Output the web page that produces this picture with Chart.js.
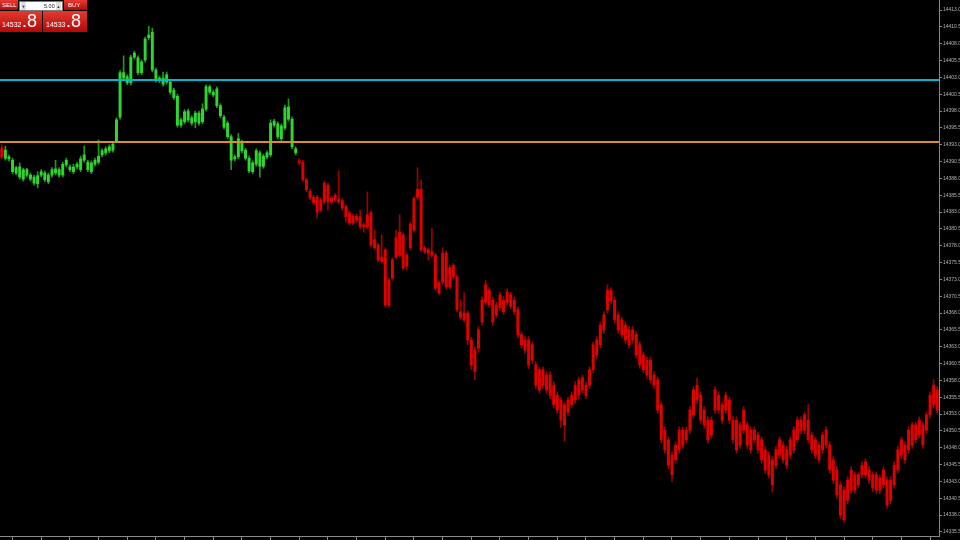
<!DOCTYPE html>
<html>
<head>
<meta charset="utf-8">
<script src="https://cdn.jsdelivr.net/npm/chart.js@4.4.1/dist/chart.umd.min.js"></script>
<style>
  html, body { margin: 0; padding: 0; background: #000; overflow: hidden; }
  #wrap { position: relative; width: 960px; height: 540px; }
  canvas { display: block; }
  .panel { position: absolute; font-family: "Liberation Sans", Arial, sans-serif; color: #fff; }
  .btn { position: absolute; background: linear-gradient(#e8392f, #b50a0a); font-size: 6px; line-height: 10px; box-sizing: border-box; }
  .field { position: absolute; background: #fff; color: #222; font-size: 5.5px; line-height: 9px; box-sizing: border-box; border: 1px solid #777; }
  .big { position: absolute; background: linear-gradient(#e23a30, #b40808); box-sizing: border-box; }
  .big .small { position: absolute; font-size: 7px; bottom: 4px; }
  .big .large { position: absolute; font-size: 18px; line-height: 18px; top: 1px; }
</style>
</head>
<body>
<div id="wrap">
  <canvas id="c" width="960" height="540"></canvas>
  <div class="panel" style="left:0;top:0;width:88px;height:33px;">
    <div class="btn" style="left:0;top:0;width:18px;height:10px;padding-left:2px;">SELL</div>
    <div class="field" style="left:19px;top:1px;width:44px;height:10px;">
      <span style="position:absolute;left:1px;top:0;width:5px;height:8px;background:#ddd;color:#333;font-size:4px;text-align:center;">&#9660;</span>
      <span style="position:absolute;left:24px;top:0;">5.00</span>
      <span style="position:absolute;left:36px;top:0;width:5px;height:8px;background:#ddd;color:#333;font-size:4px;text-align:center;">&#9650;</span>
    </div>
    <div class="btn" style="left:64px;top:0;width:23px;height:10px;padding-left:4px;">BUY</div>
    <div class="big" style="left:0;top:11px;width:42px;height:21px;">
      <span class="small" style="left:2px;">14532</span>
      <span class="large" style="left:22px;">.8</span>
    </div>
    <div class="big" style="left:43px;top:11px;width:44px;height:21px;">
      <span class="small" style="left:3px;">14533</span>
      <span class="large" style="left:23px;">.8</span>
    </div>
  </div>
</div>
<script>
// ---- data (M1 candles) ----
const open = [
14392.5,14391.0,14390.9,14389.0,14388.8,14388.2,14387.9,14388.5,14387.9,14387.3,
14387.2,14388.5,14387.8,14387.5,14388.5,14388.8,14388.5,14388.5,14390.0,14389.3,
14389.0,14389.7,14389.3,14390.7,14389.3,14389.0,14390.1,14390.4,14391.5,14391.8,
14392.1,14392.2,14393.6,14397.1,14402.9,14402.2,14402.2,14406.0,14403.7,14403.7,
14405.6,14408.9,14404.1,14402.6,14402.5,14402.0,14402.3,14400.8,14400.0,14395.9,
14395.9,14396.4,14396.7,14396.2,14396.4,14396.2,14396.4,14398.3,14400.8,14400.4,
14398.8,14397.3,14395.6,14394.2,14390.7,14390.9,14391.2,14392.1,14391.0,14389.1,
14389.0,14390.1,14389.8,14389.8,14391.2,14391.5,14395.9,14394.2,14393.9,14395.5,
14396.8,14392.7,14391.8,14390.6,14390.4,14387.8,14386.1,14385.2,14385.2,14384.8,
14387.3,14387.0,14385.1,14385.5,14384.9,14384.7,14383.8,14382.9,14382.4,14382.4,
14382.3,14381.1,14382.6,14382.9,14378.9,14378.1,14376.3,14377.4,14372.9,14375.9,
14379.2,14380.0,14379.6,14376.6,14381.2,14385.0,14386.4,14386.4,14377.7,14377.4,
14377.1,14376.6,14372.5,14376.9,14376.9,14374.8,14375.1,14373.4,14368.2,14368.0,
14368.0,14364.0,14362.5,14365.5,14369.9,14372.2,14371.4,14369.9,14369.2,14370.7,
14369.9,14371.1,14370.7,14369.9,14368.5,14364.8,14364.0,14364.0,14363.3,14360.3,
14359.6,14359.6,14358.8,14358.8,14357.3,14355.8,14355.1,14354.4,14355.1,14355.8,
14357.3,14358.1,14358.4,14357.3,14359.6,14363.3,14364.0,14366.2,14367.7,14371.4,
14371.4,14369.9,14367.7,14367.0,14366.2,14365.5,14365.5,14364.8,14363.3,14361.8,
14361.0,14361.0,14358.8,14358.1,14354.4,14350.6,14349.2,14346.9,14348.4,14350.6,
14350.6,14350.6,14353.6,14356.6,14357.3,14355.8,14353.6,14352.1,14352.1,14356.6,
14355.8,14354.4,14355.8,14355.1,14352.1,14352.1,14351.4,14353.6,14351.4,14350.6,
14350.6,14349.9,14349.2,14347.7,14346.9,14346.2,14347.7,14349.2,14348.4,14347.7,
14349.2,14350.6,14352.1,14352.1,14352.9,14352.1,14349.9,14349.2,14348.4,14349.9,
14350.6,14348.4,14346.2,14344.7,14342.5,14341.7,14343.2,14344.7,14344.0,14344.0,
14345.4,14345.9,14344.7,14344.0,14344.0,14343.5,14344.7,14343.2,14343.2,14345.4,
14347.7,14349.2,14348.4,14350.6,14351.4,14351.4,14352.1,14351.4,14352.9,14355.8,
14357.3,14356.6
];
const high = [
14393.0,14392.8,14391.5,14391.0,14389.8,14390.3,14389.5,14389.5,14388.8,14388.5,
14389.0,14389.3,14389.1,14388.8,14389.6,14390.7,14389.6,14390.4,14391.0,14390.0,
14390.1,14390.4,14391.3,14392.8,14390.7,14390.6,14391.0,14393.7,14392.4,14392.7,
14393.0,14393.4,14397.0,14404.0,14406.2,14403.4,14406.3,14406.9,14406.2,14405.6,
14409.0,14410.6,14410.3,14404.4,14403.2,14403.8,14403.8,14402.6,14401.4,14400.5,
14397.0,14398.2,14398.3,14397.3,14398.0,14398.0,14399.1,14401.9,14401.9,14401.1,
14401.6,14399.1,14397.4,14396.5,14394.5,14391.5,14394.7,14393.7,14392.5,14391.3,
14390.6,14392.4,14392.1,14391.6,14392.1,14396.7,14396.8,14396.4,14396.1,14398.9,
14399.8,14397.1,14392.7,14390.9,14390.7,14388.1,14386.4,14385.5,14385.5,14385.1,
14387.6,14387.3,14385.4,14385.8,14389.1,14385.0,14384.1,14383.2,14382.7,14382.7,
14383.3,14381.4,14386.0,14383.2,14380.3,14378.4,14379.6,14377.7,14373.2,14376.2,
14380.3,14382.6,14379.9,14376.9,14381.5,14385.3,14389.6,14387.8,14378.0,14377.7,
14380.6,14376.9,14372.8,14377.7,14377.2,14375.1,14375.4,14373.7,14370.0,14371.0,
14368.3,14364.4,14363.0,14366.0,14370.4,14372.9,14371.8,14370.4,14369.6,14371.1,
14370.4,14371.6,14371.1,14370.4,14368.9,14365.2,14364.5,14364.5,14363.7,14360.8,
14360.0,14360.0,14359.3,14359.3,14357.8,14356.3,14355.5,14354.8,14355.5,14356.3,
14357.8,14358.5,14358.8,14357.8,14360.0,14363.7,14364.5,14366.7,14368.2,14372.2,
14371.8,14370.4,14368.2,14367.4,14366.7,14366.0,14366.0,14365.2,14363.7,14362.2,
14361.5,14361.5,14359.3,14358.5,14354.8,14351.1,14349.6,14347.4,14348.9,14351.1,
14351.1,14351.1,14354.1,14357.1,14358.3,14356.3,14354.1,14352.6,14352.6,14357.1,
14356.3,14354.8,14356.3,14355.5,14352.6,14352.6,14351.8,14354.1,14351.8,14351.1,
14351.1,14350.3,14349.6,14348.2,14347.4,14346.7,14348.2,14349.6,14348.9,14348.2,
14349.6,14351.1,14352.6,14352.6,14353.3,14354.4,14350.3,14349.6,14348.9,14350.3,
14351.1,14348.9,14346.7,14345.2,14342.9,14342.2,14343.7,14345.2,14344.4,14344.4,
14345.9,14346.4,14345.2,14344.4,14344.4,14344.0,14345.2,14343.7,14343.7,14345.9,
14348.2,14349.6,14348.9,14351.1,14351.8,14351.8,14352.6,14351.8,14353.3,14356.3,
14358.1,14357.1
];
const low = [
14390.9,14390.7,14390.6,14388.7,14388.5,14387.9,14387.6,14388.2,14387.6,14387.0,
14386.6,14388.2,14387.5,14387.2,14388.2,14388.5,14388.2,14388.2,14389.7,14389.0,
14388.7,14389.4,14389.0,14390.4,14389.0,14388.7,14389.8,14390.1,14391.2,14391.5,
14391.8,14391.9,14393.3,14396.8,14402.6,14401.9,14401.9,14405.7,14403.4,14403.4,
14405.3,14408.6,14403.8,14402.3,14402.2,14401.7,14402.0,14400.5,14399.7,14395.6,
14395.6,14396.1,14396.4,14395.9,14395.5,14395.9,14396.1,14398.0,14400.5,14400.1,
14398.5,14397.0,14395.3,14393.9,14389.3,14390.6,14390.9,14391.8,14390.7,14388.8,
14388.7,14389.8,14388.2,14389.5,14390.9,14391.2,14395.6,14393.9,14393.6,14395.2,
14396.5,14392.4,14391.5,14390.0,14387.5,14386.0,14384.8,14384.1,14382.1,14383.0,
14384.2,14383.3,14384.2,14384.5,14384.2,14383.3,14381.5,14381.1,14381.1,14381.5,
14380.5,14380.0,14380.5,14377.8,14377.4,14375.6,14375.4,14368.9,14368.9,14372.9,
14376.0,14376.3,14374.4,14374.4,14377.4,14380.0,14384.9,14377.1,14376.8,14375.9,
14376.3,14371.4,14370.7,14372.3,14371.6,14371.6,14373.1,14368.2,14367.1,14366.7,
14363.3,14359.6,14358.1,14362.2,14366.2,14369.2,14368.8,14366.2,14367.3,14368.4,
14367.8,14369.2,14368.6,14367.8,14364.3,14362.8,14362.0,14359.8,14360.5,14356.8,
14356.1,14356.8,14356.1,14355.3,14353.9,14353.1,14351.0,14349.0,14352.8,14353.9,
14354.6,14355.3,14356.1,14355.3,14356.8,14359.1,14361.3,14362.8,14365.0,14368.0,
14369.4,14366.5,14365.0,14364.3,14363.5,14362.8,14363.5,14361.3,14359.8,14359.1,
14358.3,14357.6,14356.8,14353.1,14348.7,14347.2,14344.9,14343.0,14345.7,14347.2,
14347.9,14348.7,14350.1,14352.4,14354.6,14351.6,14350.9,14348.7,14349.4,14353.1,
14353.1,14351.6,14353.1,14351.6,14348.7,14347.2,14347.9,14350.1,14347.9,14347.2,
14348.7,14347.2,14345.7,14344.2,14343.5,14341.4,14344.9,14346.4,14345.7,14344.9,
14346.4,14347.2,14348.7,14350.1,14350.1,14348.7,14347.2,14346.4,14345.7,14347.2,
14347.9,14344.2,14342.7,14340.5,14337.5,14336.9,14339.7,14341.2,14341.2,14342.0,
14343.5,14343.5,14342.7,14341.5,14341.2,14341.2,14342.0,14339.0,14339.7,14342.0,
14344.2,14346.4,14345.7,14347.2,14347.9,14348.7,14349.4,14347.9,14350.1,14352.4,
14353.9,14353.1
];
const close = [
14391.2,14392.2,14391.2,14390.7,14389.6,14389.7,14389.3,14389.3,14388.5,14388.2,
14388.4,14389.0,14388.8,14388.5,14389.3,14389.4,14389.3,14390.1,14390.7,14389.7,
14389.7,14390.1,14390.9,14391.5,14390.4,14390.3,14390.7,14391.3,14392.1,14392.4,
14392.7,14393.1,14396.7,14403.7,14403.7,14403.1,14406.0,14406.6,14405.9,14405.3,
14408.7,14409.3,14409.7,14404.1,14402.9,14402.9,14403.4,14402.3,14401.1,14400.2,
14396.7,14397.9,14398.0,14397.0,14397.7,14397.7,14398.3,14401.6,14401.6,14400.8,
14401.3,14398.8,14397.1,14396.2,14394.2,14391.2,14393.9,14393.4,14392.2,14391.0,
14390.3,14392.1,14391.8,14391.3,14391.8,14396.2,14396.5,14396.1,14395.8,14398.5,
14398.6,14396.8,14392.4,14390.3,14387.8,14386.3,14385.1,14384.4,14383.0,14383.3,
14384.5,14384.5,14384.5,14384.8,14384.5,14383.6,14382.3,14381.4,14381.4,14381.8,
14380.8,14380.8,14380.8,14378.1,14377.7,14375.9,14375.7,14369.2,14369.2,14373.2,
14376.3,14376.6,14374.7,14375.0,14377.7,14380.3,14385.2,14377.4,14377.1,14376.9,
14376.6,14371.7,14371.0,14372.6,14371.9,14371.9,14373.4,14368.5,14367.4,14367.0,
14364.0,14360.3,14359.3,14362.8,14366.7,14369.6,14369.2,14366.7,14367.7,14368.8,
14368.2,14369.6,14369.0,14368.2,14364.8,14363.3,14362.5,14360.3,14361.0,14357.3,
14356.6,14357.3,14356.6,14355.8,14354.4,14353.6,14352.1,14351.4,14353.3,14354.4,
14355.1,14355.8,14356.6,14355.8,14357.3,14359.6,14361.8,14363.3,14365.5,14368.5,
14369.9,14367.0,14365.5,14364.8,14364.0,14363.3,14364.0,14361.8,14360.3,14359.6,
14358.8,14358.1,14357.3,14353.6,14349.2,14347.7,14345.4,14344.0,14346.2,14347.7,
14348.4,14349.2,14350.6,14352.9,14355.1,14352.1,14351.4,14349.2,14349.9,14353.6,
14353.6,14352.1,14353.6,14352.1,14349.2,14347.7,14348.4,14350.6,14348.4,14347.7,
14349.2,14347.7,14346.2,14344.7,14344.0,14342.5,14345.4,14346.9,14346.2,14345.4,
14346.9,14347.7,14349.2,14350.6,14350.6,14349.2,14347.7,14346.9,14346.2,14347.7,
14348.4,14344.7,14343.2,14341.0,14338.0,14337.3,14340.2,14341.7,14341.7,14342.5,
14344.0,14344.0,14343.2,14342.0,14341.7,14341.7,14342.5,14339.5,14340.2,14342.5,
14344.7,14346.9,14346.2,14347.7,14348.4,14349.2,14349.9,14348.4,14350.6,14352.9,
14354.4,14353.6
];
// candles drawn green (up-trend colouring) run from this index to that index
const upTrendFirst = 1;
const upTrendLast = 82;

// horizontal price levels
const levelValues = [14402.6, 14393.4];
const levelColors = ['#00b8cc', '#d8902c'];

// price axis ticks
const yTicks = [
14413.0,14410.5,14408.0,14405.5,14403.0,14400.5,14398.0,14395.5,14393.0,14390.5,
14388.0,14385.5,14383.0,14380.5,14378.0,14375.5,14373.0,14370.5,14368.0,14365.5,
14363.0,14360.5,14358.0,14355.5,14353.0,14350.5,14348.0,14345.5,14343.0,14340.5,
14338.0,14335.5
];
const yMin = 14334.9, yMax = 14414.49;

// time axis labels (every 8th bar, from bar 7)
const xTickFirst = 7, xTickStep = 8;
const xTickLabels = [
'5 Dec 08:07','5 Dec 08:15','5 Dec 08:23','5 Dec 08:31','5 Dec 08:39','5 Dec 08:47','5 Dec 08:55','5 Dec 09:03',
'5 Dec 09:11','5 Dec 09:19','5 Dec 09:27','5 Dec 09:35','5 Dec 09:43','5 Dec 09:51','5 Dec 09:59','5 Dec 10:07',
'5 Dec 10:15','5 Dec 10:23','5 Dec 10:31','5 Dec 10:39','5 Dec 10:47','5 Dec 10:55','5 Dec 11:03','5 Dec 11:11',
'5 Dec 11:19','5 Dec 11:27','5 Dec 11:35','5 Dec 11:43','5 Dec 11:51','5 Dec 11:59','5 Dec 12:07','5 Dec 12:15'
];

// ---- chart ----
const labels = open.map((_, i) => String(i));
const isUp = i => i >= upTrendFirst && i <= upTrendLast;
const bodyColors = open.map((_, i) => isUp(i) ? '#2fd62f' : '#e00000');
const wickColors = open.map((_, i) => isUp(i) ? '#1f9a1f' : '#a00000');

const levelsPlugin = {
  id: 'levels',
  afterDatasetsDraw(chart) {
    const { ctx, chartArea, scales } = chart;
    ctx.save();
    levelValues.forEach((v, k) => {
      const y = Math.round(scales.y.getPixelForValue(v));
      ctx.strokeStyle = levelColors[k];
      ctx.lineWidth = 2;
      ctx.beginPath();
      ctx.moveTo(chartArea.left, y);
      ctx.lineTo(chartArea.right, y);
      ctx.stroke();
    });
    ctx.restore();
  }
};

new Chart(document.getElementById('c'), {
  type: 'bar',
  data: {
    labels,
    datasets: [
      {
        label: 'wick',
        data: low.map((l, i) => [l, high[i]]),
        backgroundColor: wickColors,
        barThickness: 1,
        grouped: false,
        order: 2
      },
      {
        label: 'body',
        data: open.map((o, i) => [o, close[i]]),
        backgroundColor: bodyColors,
        barThickness: 2.3,
        minBarLength: 1,
        grouped: false,
        order: 1
      }
    ]
  },
  options: {
    responsive: false,
    animation: false,
    layout: { padding: 0 },
    plugins: { legend: { display: false }, tooltip: { enabled: false } },
    scales: {
      x: {
        type: 'category',
        offset: true,
        grid: { display: true, drawOnChartArea: false, drawTicks: true, tickLength: 4, color: '#8a8a8a' },
        border: { display: true, color: '#8a8a8a' },
        ticks: {
          autoSkip: false, maxRotation: 0, minRotation: 0, align: 'start', padding: 0,
          font: { family: 'Liberation Sans', size: 6 }, color: '#aaaaaa',
          callback: (v, i) => {
            const k = (i - xTickFirst) / xTickStep;
            return (Number.isInteger(k) && k >= 0 && k < xTickLabels.length) ? xTickLabels[k] : null;
          }
        },
        afterFit: s => { s.height = 4; s.paddingLeft = 0; s.paddingRight = 0; }
      },
      y: {
        position: 'right',
        min: yMin,
        max: yMax,
        afterBuildTicks: s => { s.ticks = yTicks.map(v => ({ value: v })); },
        grid: { display: true, drawOnChartArea: false, drawTicks: true, tickLength: 3, color: '#8a8a8a' },
        border: { display: true, color: '#8a8a8a' },
        ticks: {
          padding: 1,
          font: { family: 'Liberation Sans', size: 5 }, color: '#b4b4b4',
          callback: v => Number(v).toFixed(1)
        },
        afterFit: s => { s.width = 21; s.paddingTop = 0; s.paddingBottom = 0; }
      }
    }
  },
  plugins: [levelsPlugin]
});
</script>
</body>
</html>
